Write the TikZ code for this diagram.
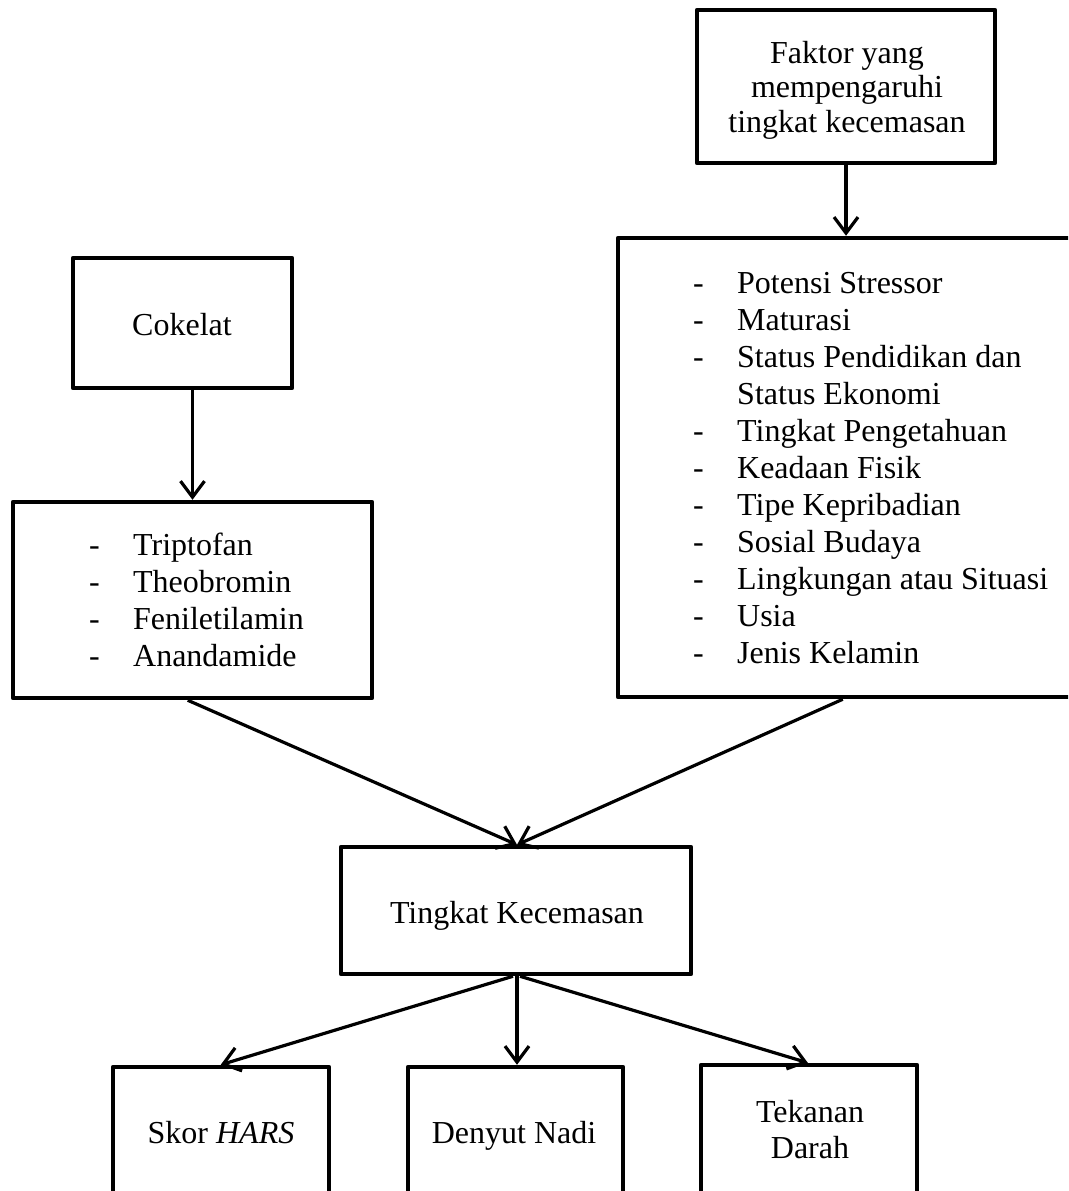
\documentclass[tikz,border=0pt]{standalone}
\usepackage{fontspec}
\setmainfont{Liberation Serif}
\usetikzlibrary{arrows.meta,calc}
\newcommand{\dashitem}[1]{\makebox[44pt][l]{-}#1}
\begin{document}
\begin{tikzpicture}[x=1pt,y=-1pt,
  box/.style={draw, line width=4.5pt, rectangle, inner sep=0pt, line join=round},
  conn/.style={line width=3.2pt, -{Straight Barb[length=16pt,width=24pt,line width=3.2pt]}},
  txt/.style={inner sep=0pt, font=\fontsize{32}{37}\selectfont}
]
\useasboundingbox (0,0) rectangle (1068,1191);
\clip (0,0) rectangle (1068,1191);

% boxes
\node[box, minimum width=298pt, minimum height=153pt] (faktor) at (846,86.5) {};
\node[box, minimum width=482pt, minimum height=459pt] (bigR) at (859,467.5) {};
\node[box, minimum width=219pt, minimum height=130pt] (cok) at (182.5,323) {};
\node[box, minimum width=359pt, minimum height=196pt] (listL) at (192.5,600) {};
\node[box, minimum width=350pt, minimum height=127pt] (tk) at (516,910.5) {};
\node[box, minimum width=216pt, minimum height=132pt] (skor) at (221,1133) {};
\node[box, minimum width=215pt, minimum height=132pt] (denyut) at (515.5,1133) {};
\node[box, minimum width=216pt, minimum height=134pt] (tekanan) at (809,1132) {};

% texts
\node[txt, font=\fontsize{32}{34.5}\selectfont, anchor=base] (tfaktor) at (847,63)
  {\begin{tabular}[t]{@{}c@{}}Faktor yang\\mempengaruhi\\tingkat kecemasan\end{tabular}};
\node[txt, anchor=base west] (tbigR) at (693,293)
  {\begin{tabular}[t]{@{}l@{}}
  \dashitem{Potensi Stressor}\\
  \dashitem{Maturasi}\\
  \dashitem{Status Pendidikan dan}\\
  \makebox[44pt][l]{}Status Ekonomi\\
  \dashitem{Tingkat Pengetahuan}\\
  \dashitem{Keadaan Fisik}\\
  \dashitem{Tipe Kepribadian}\\
  \dashitem{Sosial Budaya}\\
  \dashitem{Lingkungan atau Situasi}\\
  \dashitem{Usia}\\
  \dashitem{Jenis Kelamin}
  \end{tabular}};
\node[txt, anchor=base] (tcok) at (182,335) {Cokelat};
\node[txt, anchor=base west] (tlistL) at (89,555)
  {\begin{tabular}[t]{@{}l@{}}
  \dashitem{Triptofan}\\
  \dashitem{Theobromin}\\
  \dashitem{Feniletilamin}\\
  \dashitem{Anandamide}
  \end{tabular}};
\node[txt, anchor=base] (ttk) at (517,923) {Tingkat Kecemasan};
\node[txt, anchor=base] (tskor) at (221,1143) {Skor \textit{HARS}};
\node[txt, anchor=base] (tdenyut) at (514,1143) {Denyut Nadi};
\node[txt, font=\fontsize{32}{36}\selectfont, anchor=base] (ttekanan) at (810,1122)
  {\begin{tabular}[t]{@{}c@{}}Tekanan\\Darah\end{tabular}};

% connectors
\draw[conn] (faktor.south) -- (faktor.south |- bigR.north);
\draw[conn] ([xshift=10pt]cok.south) -- ([xshift=10pt]cok.south |- listL.north);
\draw[conn] ($(listL.south west)+(177,0)$) -- ([xshift=1pt]tk.north);
\draw[conn] ($(bigR.south west)+(227,0)$) -- ([xshift=1pt]tk.north);
\draw[conn] ([xshift=-3pt]tk.south) -- ($(skor.north west)+(110,0)$);
\draw[conn] ([xshift=1pt]tk.south) -- ([xshift=1pt]tk.south |- denyut.north);
\draw[conn] ([xshift=4pt]tk.south) -- ($(tekanan.north west)+(109,0)$);
\end{tikzpicture}
\end{document}
